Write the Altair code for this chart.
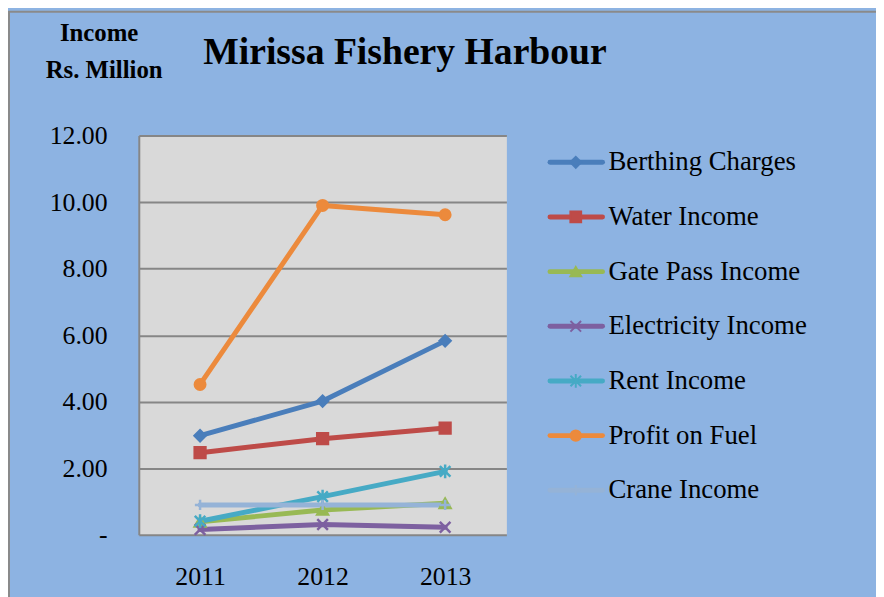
import altair as alt
import pandas as pd

years = ["2011", "2012", "2013"]
series = ["Berthing Charges", "Water Income", "Gate Pass Income", "Electricity Income",
          "Rent Income", "Profit on Fuel", "Crane Income"]
berthing = [2.98, 4.02, 5.83]
water = [2.47, 2.89, 3.21]
gate_pass = [0.39, 0.75, 0.95]
electricity = [0.16, 0.31, 0.23]
rent = [0.41, 1.15, 1.91]
profit_fuel = [4.52, 9.90, 9.62]
crane = [0.90, 0.90, 0.90]

colors = ["#4A7EBB", "#BE4B48", "#98B954", "#7D60A0", "#46AAC5", "#EC8A3C", "#95B3D7"]
shapes = ["diamond", "square", "triangle-up", "M-1,-1L1,1M-1,1L1,-1",
          "M-1,-1L1,1M-1,1L1,-1M0,-1.3L0,1.3", "circle", "M-1,0L1,0M0,-1L0,1"]
sizes = [120, 110, 100, 90, 110, 130, 80]

all_vals = [berthing, water, gate_pass, electricity, rent, profit_fuel, crane]
rows = []
for i, (s, vals) in enumerate(zip(series, all_vals)):
    for y, v in zip(years, vals):
        rows.append({"series": s, "order": i, "year": y, "value": v})
df = pd.DataFrame(rows)
leg = pd.DataFrame({"series": series, "order": list(range(len(series)))})

FONT = "Liberation Serif"
W, H = 371, 403

color_scale = alt.Scale(domain=series, range=colors)
shape_scale = alt.Scale(domain=series, range=shapes)
size_scale = alt.Scale(domain=series, range=sizes)
x_scale = alt.Scale(type="point", padding=0.5)
y_scale = alt.Scale(domain=[0, 12], nice=False)

x_enc = alt.X("year:O", scale=x_scale,
              axis=alt.Axis(title=None, labelAngle=0, ticks=False, domain=False,
                            labelFont=FONT, labelFontSize=26, labelColor="black",
                            labelPadding=29, grid=False))
y_enc = alt.Y("value:Q", scale=y_scale,
              axis=alt.Axis(title=None, orient="left", values=[0, 2, 4, 6, 8, 10, 12], ticks=False,
                            labelExpr="datum.value == 0 ? '-\u00a0\u00a0\u00a0' : format(datum.value, '.2f')",
                            labelFont=FONT, labelFontSize=26, labelColor="black",
                            labelPadding=32, grid=True, gridColor="#868686", gridWidth=2,
                            domain=True, domainColor="#868686", domainWidth=2))

border = alt.Chart(pd.DataFrame({"a": [0]})).mark_rect(
    fillOpacity=0, stroke="#8a8a8a", strokeWidth=2
).encode(x=alt.value(-131), y=alt.value(-125), x2=alt.value(W + 380), y2=alt.value(H + 90))

lines = alt.Chart(df).mark_line(strokeWidth=5, strokeCap="round", strokeJoin="round").encode(
    x=x_enc, y=y_enc,
    color=alt.Color("series:N", scale=color_scale, legend=None),
    order=alt.Order("order:Q"),
    detail="series:N",
)
points = alt.Chart(df).mark_point(filled=True, opacity=1, strokeWidth=2.5).encode(
    x=x_enc,
    y=alt.Y("value:Q", scale=y_scale, axis=None),
    color=alt.Color("series:N", scale=color_scale, legend=None),
    stroke=alt.Stroke("series:N", scale=color_scale, legend=None),
    shape=alt.Shape("series:N", scale=shape_scale, legend=None),
    size=alt.Size("series:N", scale=size_scale, legend=None),
)

ly = alt.Y("series:N", sort=series, axis=None,
           scale=alt.Scale(type="point", domain=series, range=[27, 358], padding=0))
leg_line = alt.Chart(leg).mark_rule(strokeWidth=5, strokeCap="round").encode(
    x=alt.value(415), x2=alt.value(468), y=ly,
    color=alt.Color("series:N", scale=color_scale, legend=None))
leg_pt = alt.Chart(leg).mark_point(filled=True, opacity=1, strokeWidth=2).encode(
    x=alt.value(441), y=ly,
    color=alt.Color("series:N", scale=color_scale, legend=None),
    stroke=alt.Stroke("series:N", scale=color_scale, legend=None),
    shape=alt.Shape("series:N", scale=shape_scale, legend=None),
    size=alt.Size("series:N", scale=size_scale, legend=None))
leg_txt = alt.Chart(leg).mark_text(align="left", baseline="middle", font=FONT,
                                   fontSize=27, color="black").encode(
    x=alt.value(474), y=ly, text="series:N")

def label(txt, x, y, size, align="center"):
    return alt.Chart(pd.DataFrame({"t": [txt]})).mark_text(
        align=align, baseline="alphabetic", font=FONT, fontSize=size,
        fontWeight="bold", color="black").encode(
        text="t:N", x=alt.value(x), y=alt.value(y))

title = label("Mirissa Fishery Harbour", 65, -72, 38, align="left")
inc1 = label("Income", -40, -95, 25)
inc2 = label("Rs. Million", -35, -58, 25)

chart = alt.layer(border, lines, points, leg_line, leg_pt, leg_txt, title, inc1, inc2).resolve_scale(
    y="independent"
).properties(
    width=W, height=H,
    autosize=alt.AutoSizeParams(type="none"),
    padding={"left": 132, "top": 126, "right": 373, "bottom": 62},
    background="#8DB3E2",
).configure_view(fill="#D9D9D9", stroke="transparent", strokeOpacity=0).configure_axisRight(
    domain=False, labels=False, ticks=False, grid=False
)

chart.save("out.html", embed_options={"renderer": "svg", "actions": False})
